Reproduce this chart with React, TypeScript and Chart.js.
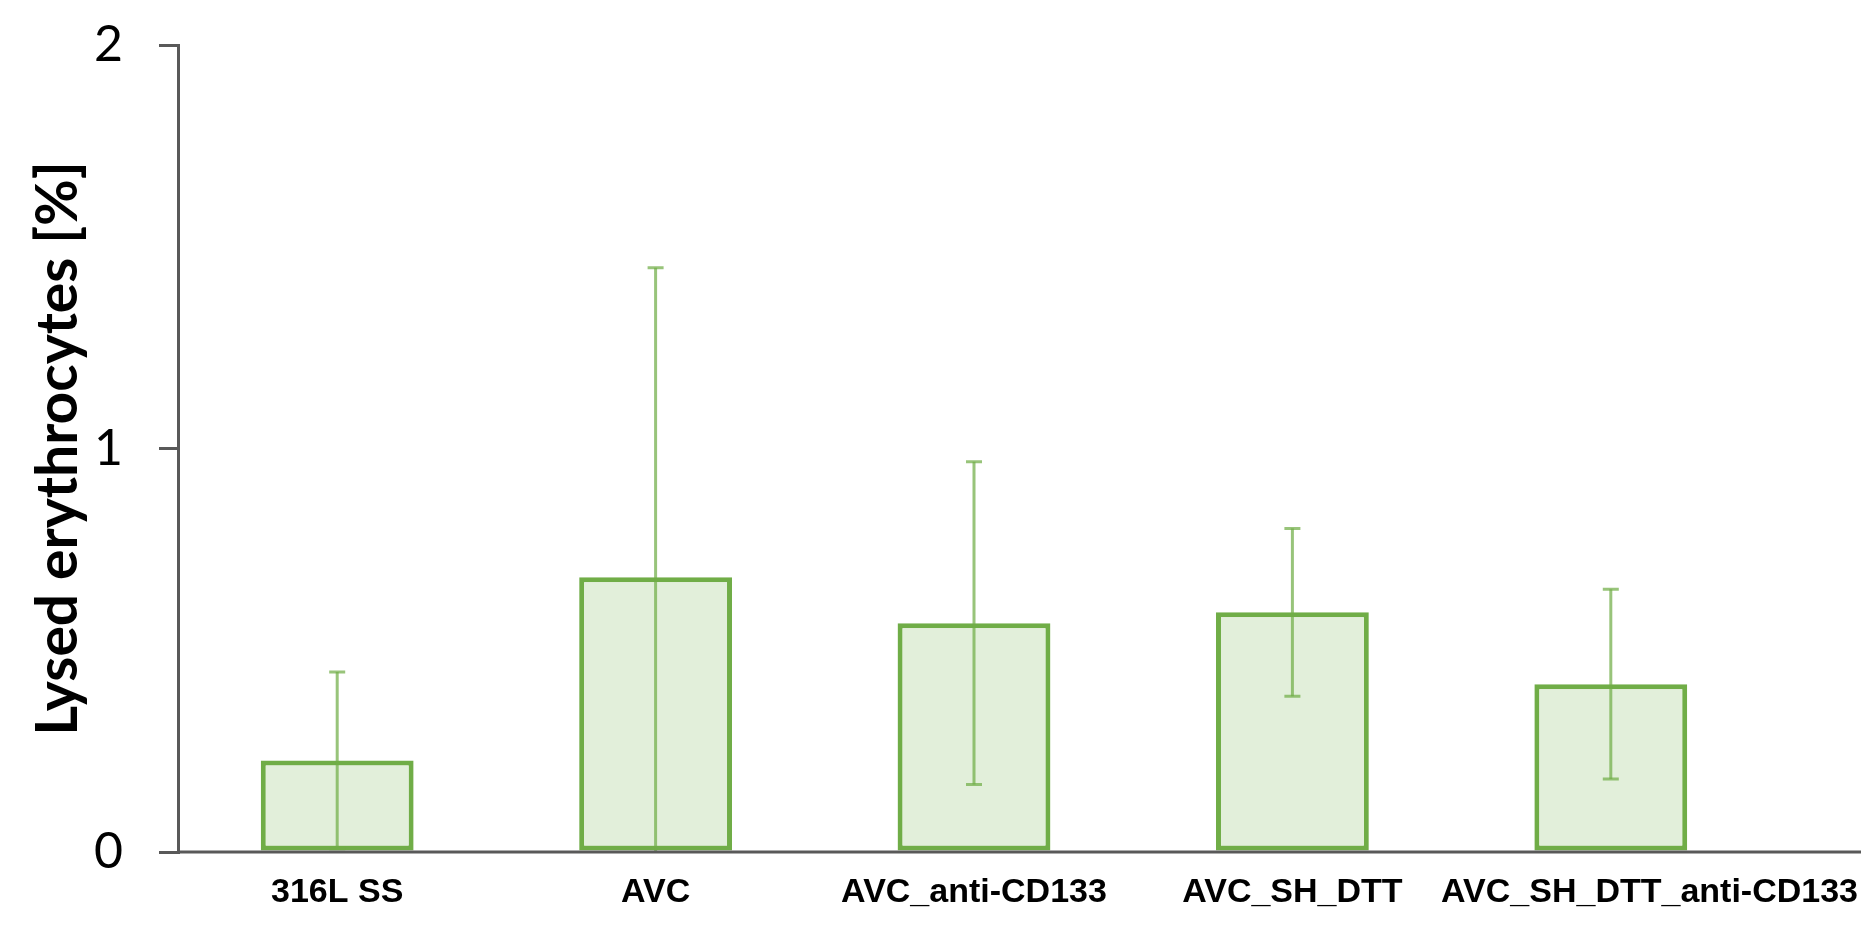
import React, { useEffect, useRef } from "react";
import { Chart, registerables } from "chart.js";

Chart.register(...registerables);

const categories = ["316L SS", "AVC", "AVC_anti-CD133", "AVC_SH_DTT", "AVC_SH_DTT_anti-CD133"];
const means = [0.227, 0.681, 0.567, 0.594, 0.416];
const sds = [0.219, 0.767, 0.4, 0.208, 0.235];
const yTicks = [0, 1, 2];
const yTitle = "Lysed erythrocytes [%]";

const AXIS_COLOR = "#595959";
const BAR_BORDER = "#70ad47";
const BAR_FILL = "#e2efda";
const ERR_COLOR = "rgba(112,173,71,0.72)";
const X_FONT = "bold 34px 'Liberation Sans', Arial, sans-serif";

const errorBarPlugin = {
  id: "errorBars",
  afterDatasetsDraw(chart: any) {
    const { ctx } = chart;
    const meta = chart.getDatasetMeta(0);
    const y = chart.scales.y;
    ctx.save();
    ctx.strokeStyle = ERR_COLOR;
    ctx.lineWidth = 3;
    meta.data.forEach((bar: any, i: number) => {
      const hi = means[i] + sds[i];
      const loRaw = means[i] - sds[i];
      const lo = Math.max(0, loRaw);
      const x = bar.x;
      const yHi = y.getPixelForValue(hi);
      const yLo = y.getPixelForValue(lo);
      ctx.beginPath();
      ctx.moveTo(x, yHi);
      ctx.lineTo(x, yLo);
      ctx.stroke();
      const cap = 8;
      ctx.beginPath();
      ctx.moveTo(x - cap, yHi);
      ctx.lineTo(x + cap, yHi);
      if (loRaw > 0) {
        ctx.moveTo(x - cap, yLo);
        ctx.lineTo(x + cap, yLo);
      }
      ctx.stroke();
    });
    ctx.restore();
  },
};

const xAxisPlugin = {
  id: "xAxisDecor",
  afterDraw(chart: any) {
    const { ctx, chartArea, width } = chart;
    const y0 = chart.scales.y.getPixelForValue(0);
    const xs = chart.scales.x;
    const axisEnd = width - 12;
    ctx.save();
    ctx.strokeStyle = AXIS_COLOR;
    ctx.lineWidth = 3;
    ctx.beginPath();
    ctx.moveTo(chartArea.left, y0);
    ctx.lineTo(axisEnd, y0);
    ctx.stroke();
    // category labels; a label that would crowd its neighbour is pushed right to the axis end
    ctx.font = X_FONT;
    ctx.fillStyle = "#000";
    ctx.textBaseline = "alphabetic";
    ctx.textAlign = "left";
    let prevRight = -Infinity;
    categories.forEach((label, i) => {
      const cx = xs.getPixelForTick(i);
      const w = ctx.measureText(label).width;
      let left = cx - w / 2;
      if (left < prevRight + 30) left = axisEnd - 3 - w;
      ctx.fillText(label, left, y0 + 50);
      prevRight = left + w;
    });
    ctx.restore();
  },
};

export default function App() {
  const canvasRef = useRef<HTMLCanvasElement | null>(null);

  useEffect(() => {
    document.body.style.margin = "0";
    const canvas = canvasRef.current;
    if (!canvas) return;
    const chart = new Chart(canvas, {
      type: "bar",
      data: {
        labels: categories,
        datasets: [
          {
            data: means,
            backgroundColor: BAR_FILL,
            borderColor: BAR_BORDER,
            borderWidth: 5,
            borderSkipped: false,
            barPercentage: 0.48,
            categoryPercentage: 1,
          },
        ],
      },
      options: {
        animation: false,
        responsive: true,
        maintainAspectRatio: false,
        layout: { padding: { left: 0, right: 103, top: 45, bottom: 0 } },
        plugins: {
          legend: { display: false },
          tooltip: { enabled: false },
        },
        scales: {
          x: {
            offset: true,
            grid: { display: false, drawTicks: false },
            border: { display: false },
            ticks: { display: false },
            afterFit(scale: any) {
              scale.height = 84;
              scale.paddingLeft = 0;
              scale.paddingRight = 0;
            },
          },
          y: {
            min: 0,
            max: 2,
            afterBuildTicks(scale: any) {
              scale.ticks = yTicks.map((v) => ({ value: v }));
            },
            grid: {
              display: true,
              drawOnChartArea: false,
              drawTicks: true,
              tickLength: 19,
              color: AXIS_COLOR,
              lineWidth: 3,
            },
            border: { display: true, color: AXIS_COLOR, width: 3 },
            ticks: {
              color: "#000",
              padding: 36,
              font: { family: "Lato, 'Open Sans', sans-serif", size: 50 },
            },
            title: {
              display: true,
              text: yTitle,
              color: "#000",
              padding: { top: 24, bottom: 0 },
              font: { family: "Lato, 'Open Sans', sans-serif", size: 57, weight: "bold" },
            },
            afterFit(scale: any) {
              scale.width = 178;
              scale.paddingTop = 0;
              scale.paddingBottom = 0;
            },
          },
        },
      },
      plugins: [errorBarPlugin, xAxisPlugin],
    });
    return () => chart.destroy();
  }, []);

  return (
    <div style={{ position: "relative", width: 1873, height: 936 }}>
      <canvas ref={canvasRef} />
    </div>
  );
}
